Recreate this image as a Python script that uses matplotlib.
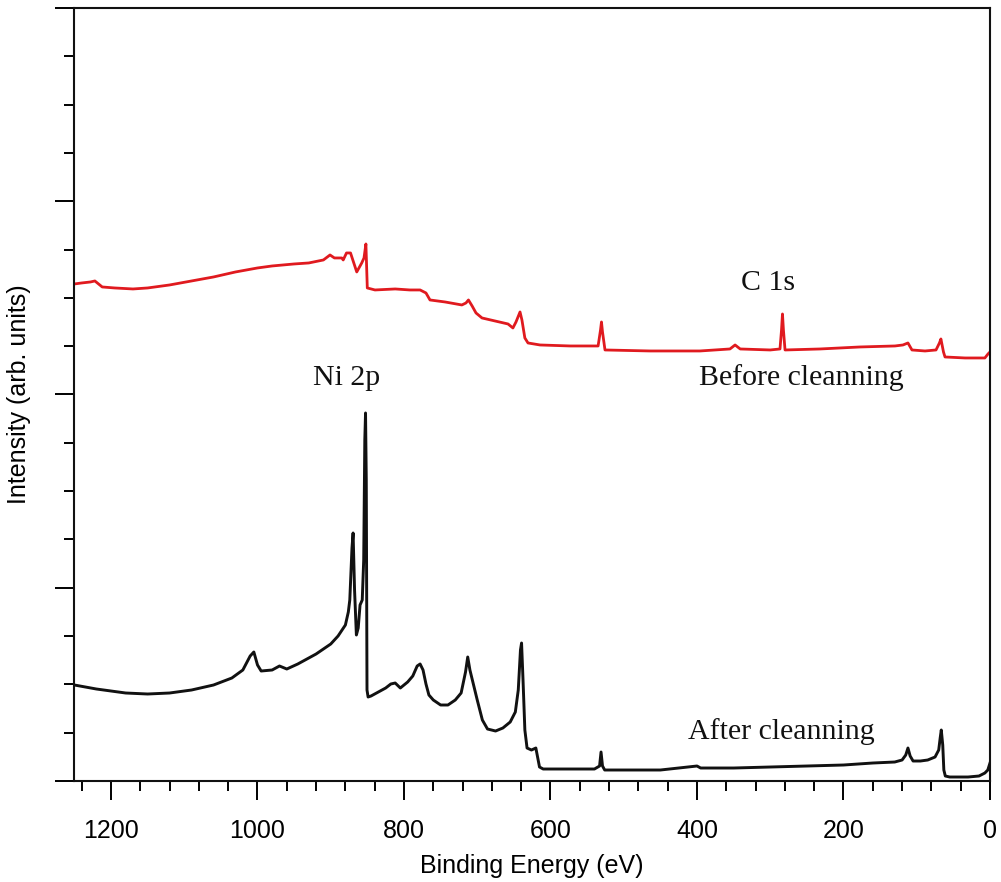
import matplotlib
matplotlib.use("Agg")
import matplotlib.pyplot as plt
from matplotlib.ticker import MultipleLocator, NullFormatter

# Binding energy (eV) and intensity (arb. units) -- after cleaning
be_after = [1250, 1220, 1180, 1150, 1120, 1090, 1060, 1035, 1020, 1010, 1005, 1000, 995,
            980, 970, 960, 945, 920, 900, 890, 880, 876, 874, 871, 869.5, 867.5, 865,
            862.5, 860, 857, 855, 853.5, 852.5, 851.5, 850.5, 849, 845, 835, 825, 818,
            812, 805, 795, 788, 782, 778, 774, 770, 766, 760, 750, 740, 730, 722, 716,
            713, 710, 706, 700, 693, 686, 675, 665, 655, 648, 644, 641, 639.5, 637.5,
            635, 632, 626, 620, 615, 610, 580, 540, 533, 531, 529, 526, 500, 450, 400,
            395, 350, 300, 250, 200, 160, 130, 120, 115, 112, 109, 105, 95, 85, 75, 70,
            68, 66.5, 64.5, 63, 61, 55, 30, 15, 7, 3, 0]
int_after = [96, 92, 88, 87, 88, 91, 96, 103, 111, 125, 129, 116, 110,
             111, 115, 112, 117, 127, 137, 145, 156, 169, 181, 233, 248, 191, 146,
             153, 176, 181, 221, 341, 368, 301, 91, 84, 85, 89, 93, 97,
             98, 93, 99, 105, 115, 117, 111, 97, 86, 81, 76, 76, 81, 88, 109,
             124, 111, 99, 81, 61, 52, 50, 53, 59, 69, 91, 131, 138, 101,
             51, 33, 31, 33, 14, 12, 12, 12, 15, 29, 15, 11, 11, 11, 15,
             13, 13, 14, 15, 16, 18, 19, 21, 26, 33, 25, 20, 20, 21, 24, 31,
             43, 51, 36, 11, 5, 4, 4, 5, 8, 11, 18]

# before cleaning
be_before = [1250, 1240, 1228, 1222, 1212, 1195, 1170, 1150, 1120, 1090, 1060, 1030, 1000,
             980, 950, 930, 910, 901, 895, 885, 883, 878.5, 873, 864.5, 857.7, 854.6, 852,
             850.1, 839.6, 812, 792, 778, 770, 764.5, 744, 721, 715.4, 712, 707, 701.7,
             693.5, 675.8, 658, 651.3, 647.1, 641.6, 639, 635, 630.7, 614.3, 573, 546,
             535, 531.7, 530.4, 529, 525.6, 464, 396, 355, 348, 341, 300, 286.7, 284.6,
             283.3, 282, 279.8, 232, 177.5, 129.7, 118.8, 112, 106.5, 88.7, 73.7, 69, 67,
             63.5, 61.4, 34, 7, 2.7, 0]
int_before = [497, 498, 499, 500, 494, 493, 492, 493, 496, 500, 504, 509, 513,
              515, 517, 518, 521, 526, 523, 523, 521, 528, 528, 509, 518, 523, 537,
              493, 491, 492, 491, 491, 488, 481, 479, 476, 478, 481, 475, 468,
              463, 460, 457, 453, 459, 469, 461, 443, 438, 436, 435, 435,
              435, 451, 459, 449, 431, 430, 430, 432, 436, 432, 431, 432, 451,
              467, 451, 431, 432, 434, 435, 436, 438, 431, 430, 431, 438, 442,
              429, 424, 423, 423, 427, 429]

labels = ["Ni 2p", "C 1s", "Before cleanning", "After cleanning"]
label_be = [878, 303, 258, 285]
label_int = [403, 498, 403, 49]

fig = plt.figure(figsize=(10.01, 8.82), dpi=100)
ax = fig.add_axes([0.0743, 0.1145, 0.9147, 0.8765])

ax.plot(be_before, int_before, color="#e01a1f", lw=2.0)
ax.plot(be_after, int_after, color="#111111", lw=2.1)

for t, x, y in zip(labels, label_be, label_int):
    ax.text(x, y, t, ha="center", va="center", fontsize=21.5,
            family="Liberation Serif", color="#111111")

ax.set_xlim(1250, 0)
ax.set_ylim(0, 773)
ax.xaxis.set_major_locator(MultipleLocator(200))
ax.xaxis.set_minor_locator(MultipleLocator(40))
ax.yaxis.set_major_locator(MultipleLocator(193.25))
ax.yaxis.set_minor_locator(MultipleLocator(48.3125))
ax.yaxis.set_major_formatter(NullFormatter())

ax.tick_params(axis="both", which="major", direction="out", length=13.5, width=1.4,
               top=False, right=False, labelsize=18, pad=14)
ax.tick_params(axis="both", which="minor", direction="out", length=7, width=1.4,
               top=False, right=False)
for lab in ax.get_xticklabels():
    lab.set_family("Liberation Sans")
for s in ax.spines.values():
    s.set_linewidth(1.5)
    s.set_color("#111111")

ax.set_xlabel("Binding Energy (eV)", fontsize=18, family="Liberation Sans", labelpad=8)
ax.set_ylabel("Intensity (arb. units)", fontsize=18, family="Liberation Sans")
ax.yaxis.set_label_coords(-0.0475, 0.5)

fig.savefig("out.png", dpi=100)
